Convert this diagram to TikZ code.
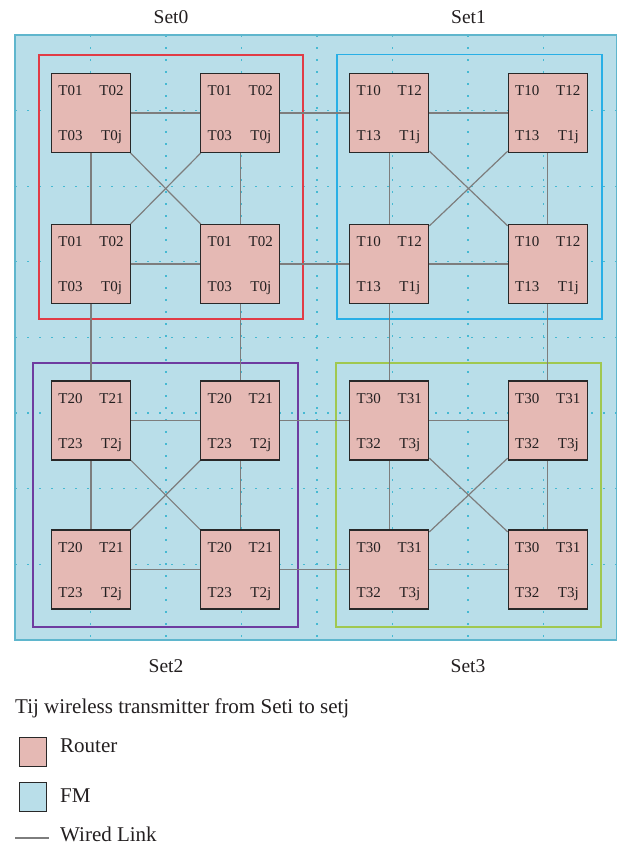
\documentclass[tikz,border=0pt]{standalone}
\usepackage{fontspec}
\setmainfont{Liberation Serif}
\definecolor{fmfill}{RGB}{185,222,233}
\definecolor{fmborder}{RGB}{95,182,205}
\definecolor{rtfill}{RGB}{229,185,180}
\definecolor{rtborder}{RGB}{40,40,40}
\definecolor{wiregray}{RGB}{125,125,125}
\definecolor{griddot}{RGB}{70,185,210}
\definecolor{setzero}{RGB}{225,60,70}
\definecolor{setone}{RGB}{40,175,230}
\definecolor{settwo}{RGB}{110,60,160}
\definecolor{setthree}{RGB}{160,200,80}
\definecolor{txt}{RGB}{35,31,32}
\pgfdeclarelayer{back}
\pgfdeclarelayer{wires}
\pgfsetlayers{back,wires,main}
\newcommand{\rtr}[7]{%
  \node[router] (#1) at (#2,#3) {};
  \node[tlab] (#1-a) at ([xshift=-20.5pt,yshift=17.4pt]#1.center) {#4};
  \node[tlab] (#1-b) at ([xshift=20.5pt,yshift=17.4pt]#1.center) {#5};
  \node[tlab] (#1-c) at ([xshift=-20.5pt,yshift=-27.6pt]#1.center) {#6};
  \node[tlab] (#1-d) at ([xshift=20.5pt,yshift=-27.6pt]#1.center) {#7};
}
\begin{document}
\begin{tikzpicture}[x=1pt,y=-1pt,
  router/.style={draw=rtborder, fill=rtfill, line width=1.1pt, minimum width=79pt, minimum height=79pt, inner sep=0pt},
  tlab/.style={anchor=base, inner sep=0pt, text=txt, font=\fontsize{15}{17}\selectfont},
  setlab/.style={anchor=base, inner sep=0pt, text=txt, font=\fontsize{19.5}{22}\selectfont},
  leglab/.style={anchor=base west, inner sep=0pt, text=txt, font=\fontsize{21}{24}\selectfont},
  wire/.style={draw=wiregray, line width=1.2pt},
  griddots/.style={draw=griddot, line width=1.1pt, dash pattern=on 1.5pt off 10.5pt},
  setbox/.style={line width=1.1pt},
  swatch/.style={draw=rtborder, line width=1pt, minimum width=27pt, minimum height=29pt, inner sep=0pt}
]
\useasboundingbox (0,0) rectangle (617,846);

% FM background and grid
\begin{pgfonlayer}{back}
  \fill[fmfill] (15,35) rectangle (616.5,640);
  \foreach \k in {1,...,7} {
    \draw[griddots] ({15+75.5*\k},35) -- ({15+75.5*\k},640);
    \draw[griddots] (15,{35+75.6*\k}) -- (616.5,{35+75.6*\k});
  }
  \draw[fmborder, line width=1.5pt] (15,35) rectangle (616.5,640);
  \draw[setzero, setbox] (39,55) rectangle (303,319);
  \draw[setone, setbox] (337,54.5) rectangle (602,319);
  \draw[settwo, setbox] (33,363) rectangle (298,627);
  \draw[setthree, setbox] (336,363) rectangle (601,627);
\end{pgfonlayer}

% Routers
\rtr{a1}{91}{113}{T01}{T02}{T03}{T0j}
\rtr{a2}{240.3}{113}{T01}{T02}{T03}{T0j}
\rtr{a3}{91}{264}{T01}{T02}{T03}{T0j}
\rtr{a4}{240.3}{264}{T01}{T02}{T03}{T0j}
\rtr{b1}{389.3}{113}{T10}{T12}{T13}{T1j}
\rtr{b2}{547.8}{113}{T10}{T12}{T13}{T1j}
\rtr{b3}{389.3}{264}{T10}{T12}{T13}{T1j}
\rtr{b4}{547.8}{264}{T10}{T12}{T13}{T1j}
\rtr{c1}{91}{420.5}{T20}{T21}{T23}{T2j}
\rtr{c2}{240.3}{420.5}{T20}{T21}{T23}{T2j}
\rtr{c3}{91}{569.5}{T20}{T21}{T23}{T2j}
\rtr{c4}{240.3}{569.5}{T20}{T21}{T23}{T2j}
\rtr{d1}{389.3}{420.5}{T30}{T31}{T32}{T3j}
\rtr{d2}{547.8}{420.5}{T30}{T31}{T32}{T3j}
\rtr{d3}{389.3}{569.5}{T30}{T31}{T32}{T3j}
\rtr{d4}{547.8}{569.5}{T30}{T31}{T32}{T3j}

% Wires
\begin{pgfonlayer}{wires}
  \foreach \s in {a,b,c,d} {
    \draw[wire] (\s1) -- (\s2);
    \draw[wire] (\s3) -- (\s4);
    \draw[wire] (\s1) -- (\s3);
    \draw[wire] (\s2) -- (\s4);
    \draw[wire] (\s1) -- (\s4);
    \draw[wire] (\s2) -- (\s3);
  }
  \draw[wire] (a2) -- (b1);
  \draw[wire] (a4) -- (b3);
  \draw[wire] (a3) -- (c1);
  \draw[wire] (a4) -- (c2);
  \draw[wire] (b3) -- (d1);
  \draw[wire] (b4) -- (d2);
  \draw[wire] (c2) -- (d1);
  \draw[wire] (c4) -- (d3);
\end{pgfonlayer}

% Set labels
\node[setlab] (s0) at (171,23) {Set0};
\node[setlab] (s1) at (468.5,23) {Set1};
\node[setlab] (s2) at (166,672) {Set2};
\node[setlab] (s3) at (468,672) {Set3};

% Legend
\node[leglab] (lgt) at (15,713) {Tij wireless transmitter from Seti to setj};
\node[swatch, fill=rtfill] (lgr) at (32.5,751.5) {};
\node[leglab] (lgrt) at (60,752) {Router};
\node[swatch, fill=fmfill] (lgf) at (32.5,797) {};
\node[leglab] (lgft) at (60,802) {FM};
\coordinate (wl1) at (15,838);
\coordinate (wl2) at (49,838);
\draw[wire] (wl1) -- (wl2);
\node[leglab] (lgwt) at (60,841.5) {Wired Link};
\end{tikzpicture}
\end{document}
